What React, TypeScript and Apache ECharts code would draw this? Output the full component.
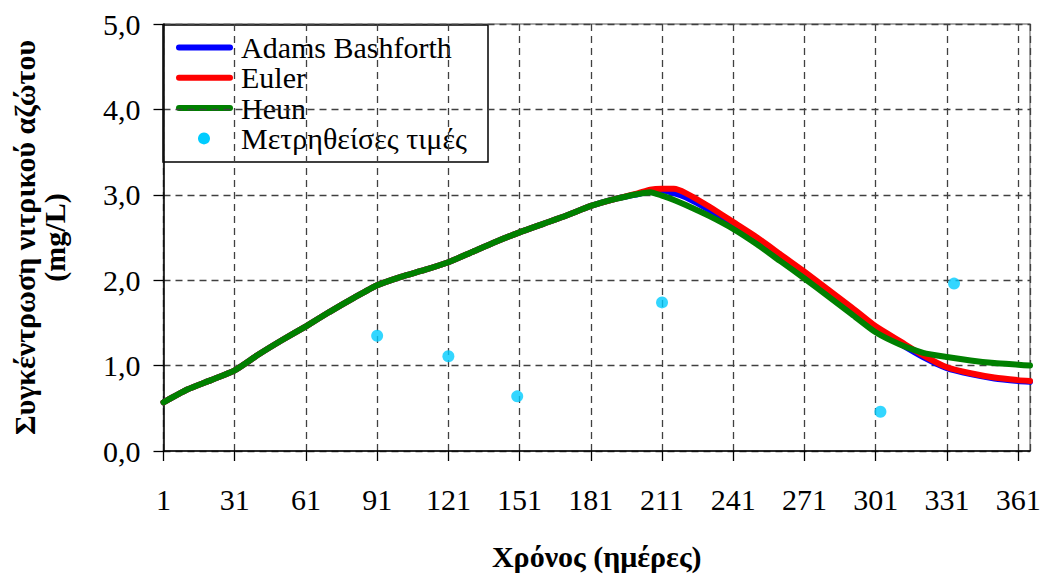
import { useEffect, useRef } from 'react';
import * as echarts from 'echarts';

// Simulation days at which the curves are sampled
const days = [
  1, 11, 21, 31, 41, 51, 61, 71, 81, 91, 101, 111, 121, 131, 141, 151, 161, 171, 181, 191, 201,
  206, 211, 216, 221, 231, 241, 251, 261, 271, 281, 291, 301, 311, 321, 331, 341, 351, 361, 366,
];

// Nitrate nitrogen concentration (mg/L) from each numerical scheme
const adamsBashforth = [
  0.57, 0.72, 0.83, 0.945, 1.13, 1.3, 1.46, 1.63, 1.79, 1.94, 2.04, 2.12, 2.21, 2.33, 2.45, 2.56, 2.66, 2.76, 2.87, 2.95, 3.01,
  3.04, 3.05, 3.02, 2.97, 2.82, 2.64, 2.46, 2.26, 2.06, 1.85, 1.65, 1.43, 1.26, 1.1, 0.97, 0.9, 0.85, 0.82, 0.81,
];
const euler = [
  0.57, 0.72, 0.83, 0.945, 1.13, 1.3, 1.46, 1.63, 1.79, 1.94, 2.04, 2.12, 2.21, 2.33, 2.45, 2.56, 2.66, 2.76, 2.87, 2.95, 3.02,
  3.06, 3.07, 3.07, 3.02, 2.86, 2.68, 2.5, 2.3, 2.1, 1.89, 1.68, 1.46, 1.29, 1.12, 0.98, 0.91, 0.86, 0.83, 0.82,
];
const heun = [
  0.57, 0.72, 0.83, 0.945, 1.13, 1.3, 1.46, 1.63, 1.79, 1.94, 2.04, 2.12, 2.21, 2.33, 2.45, 2.56, 2.66, 2.76, 2.87, 2.95, 3.01,
  3.03, 2.99, 2.94, 2.88, 2.75, 2.6, 2.42, 2.22, 2.02, 1.81, 1.6, 1.39, 1.25, 1.15, 1.1, 1.06, 1.03, 1.01, 1.0,
];

// Field measurements
const measuredDays = [91, 121, 150, 211, 303, 334];
const measuredValues = [1.35, 1.11, 0.64, 1.74, 0.46, 1.96];

const seriesNames = ['Adams Bashforth', 'Euler', 'Heun', 'Μετρηθείσες τιμές'];
const seriesColors = ['#0000ff', '#ff0000', '#008000', '#00ccff'];
const xTitle = 'Χρόνος (ημέρες)';
const yTitle = 'Συγκέντρωση νιτρικού αζώτου\n(mg/L)';

const FONT = 'Liberation Serif';

const lineSeries = (idx: number, values: number[]) => ({
  name: seriesNames[idx],
  type: 'line',
  data: days.map((d, i) => [d, values[i]]),
  symbol: 'none',
  showSymbol: false,
  smooth: 0.2,
  z: 2 + idx,
  itemStyle: { color: seriesColors[idx] },
  lineStyle: { color: seriesColors[idx], width: 6, cap: 'round', join: 'round' },
});

// Boxed key in the top-left corner of the plot
const legendBox = { x: 163, y: 25, w: 325, h: 137 };
const legendGraphic = () => {
  const rowY = (i: number) => legendBox.y + 22.5 + i * 30.3;
  const children: any[] = [
    {
      type: 'rect',
      shape: { x: legendBox.x, y: legendBox.y, width: legendBox.w, height: legendBox.h },
      style: { fill: '#ffffff', stroke: '#000000', lineWidth: 1.5 },
    },
  ];
  seriesNames.forEach((name, i) => {
    if (i < 3) {
      children.push({
        type: 'line',
        shape: { x1: legendBox.x + 16, y1: rowY(i), x2: legendBox.x + 67, y2: rowY(i) },
        style: { stroke: seriesColors[i], lineWidth: 6, lineCap: 'round' },
      });
    } else {
      children.push({
        type: 'circle',
        shape: { cx: legendBox.x + 41, cy: rowY(i), r: 6 },
        style: { fill: seriesColors[i] },
      });
    }
    children.push({
      type: 'text',
      x: legendBox.x + 78,
      y: rowY(i),
      style: {
        text: name,
        fontFamily: FONT,
        fontSize: 30,
        fill: '#000000',
        align: 'left',
        verticalAlign: 'middle',
      },
    });
  });
  return { type: 'group', z: 100, children };
};

export default function App() {
  const ref = useRef<HTMLDivElement>(null);

  useEffect(() => {
    if (!ref.current) return;
    const chart = echarts.init(ref.current, null, { renderer: 'svg' });
    chart.setOption({
      animation: false,
      backgroundColor: '#ffffff',
      textStyle: { fontFamily: FONT },
      grid: {
        left: 163.5,
        top: 24,
        right: 17,
        bottom: 124.5,
        show: true,
        borderColor: '#8c8c8c',
        borderWidth: 1.5,
        backgroundColor: 'transparent',
      },
      graphic: [legendGraphic()],
      xAxis: {
        type: 'value',
        min: 1,
        max: 366,
        interval: 30,
        name: xTitle,
        nameLocation: 'middle',
        nameGap: 90,
        nameTextStyle: {
          fontFamily: FONT,
          fontSize: 30,
          fontWeight: 'bold',
          color: '#000000',
          align: 'center',
        },
        axisLine: { lineStyle: { color: '#000000', width: 1.5 } },
        axisTick: { length: 10, lineStyle: { color: '#000000', width: 1.3 } },
        axisLabel: {
          margin: 33,
          fontSize: 30,
          color: '#000000',
          fontFamily: FONT,
          showMaxLabel: false,
        },
        splitLine: { show: true, lineStyle: { type: [7, 5], color: '#404040', width: 1.3 } },
      },
      yAxis: {
        type: 'value',
        min: 0,
        max: 5,
        interval: 1,
        name: yTitle,
        nameLocation: 'middle',
        nameRotate: 90,
        nameGap: 94,
        nameTextStyle: {
          fontFamily: FONT,
          fontSize: 30,
          fontWeight: 'bold',
          color: '#000000',
          align: 'center',
        },
        axisLine: { show: true, lineStyle: { color: '#000000', width: 1.5 } },
        axisTick: { show: true, length: 10, lineStyle: { color: '#000000', width: 1.3 } },
        axisLabel: {
          margin: 23,
          fontSize: 30,
          color: '#000000',
          fontFamily: FONT,
          formatter: (v: number) => v.toFixed(1).replace('.', ','),
        },
        splitLine: { show: true, lineStyle: { type: [7, 5], color: '#404040', width: 1.3 } },
      },
      series: [
        lineSeries(0, adamsBashforth),
        lineSeries(1, euler),
        lineSeries(2, heun),
        {
          name: seriesNames[3],
          type: 'scatter',
          data: measuredDays.map((d, i) => [d, measuredValues[i]]),
          symbol: 'circle',
          symbolSize: 12,
          z: 5,
          itemStyle: { color: seriesColors[3] },
        },
      ],
    });
    return () => chart.dispose();
  }, []);

  return (
    <div
      ref={ref}
      style={{ position: 'absolute', left: 0, top: 0, width: 1047, height: 576 }}
    />
  );
}
